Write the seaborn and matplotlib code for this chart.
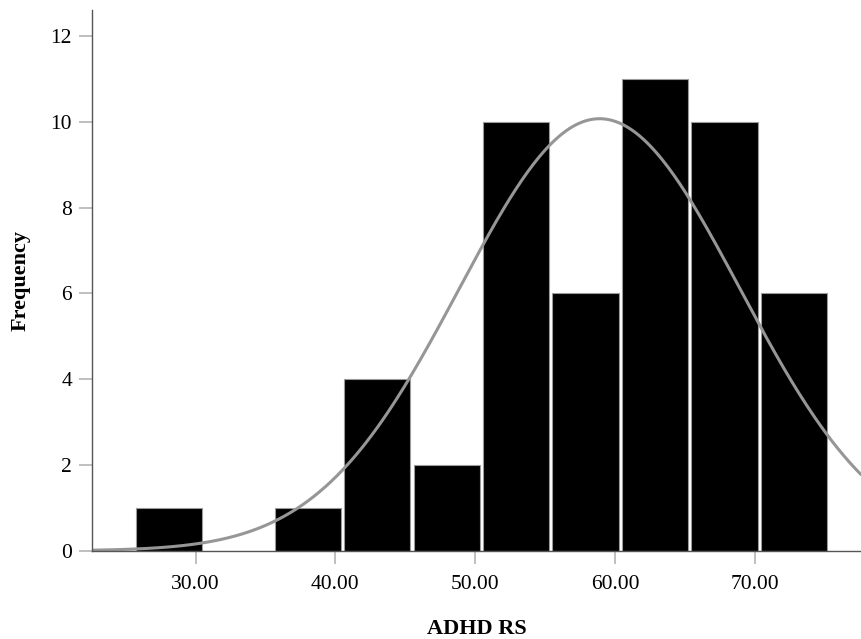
import numpy as np
import pandas as pd
import matplotlib
matplotlib.use("Agg")
import matplotlib.pyplot as plt
import seaborn as sns

# Histogram of ADHD RS scores with fitted normal curve
bin_start = 25.6
bin_width = 4.97
counts = [1, 0, 1, 4, 2, 10, 6, 11, 10, 6]
mean_score = 58.9
sd_score = 10.04
x_ticks = [30, 40, 50, 60, 70]
y_ticks = [0, 2, 4, 6, 8, 10, 12]

sns.set_style("white")
plt.rcParams["font.family"] = ["Liberation Serif", "DejaVu Serif"]
plt.rcParams["text.color"] = "black"
plt.rcParams["xtick.color"] = "black"
plt.rcParams["ytick.color"] = "black"
plt.rcParams["axes.labelcolor"] = "black"

edges = bin_start + bin_width * np.arange(len(counts) + 1)
centers = (edges[:-1] + edges[1:]) / 2
df = pd.DataFrame({"score": centers, "count": counts})

fig = plt.figure(figsize=(8.61, 6.39), dpi=100)
ax = fig.add_axes([0.107, 0.138, 0.893, 0.846])

sns.histplot(data=df, x="score", weights="count", binwidth=bin_width,
             binrange=(float(edges[0]), float(edges[-1])), shrink=0.955,
             color="black", edgecolor="#9a9a9a", linewidth=0.8, alpha=1.0, ax=ax)

n = sum(counts)
xs = np.linspace(22.6, 77.6, 400)
ys = n * bin_width / (sd_score * np.sqrt(2 * np.pi)) * np.exp(-0.5 * ((xs - mean_score) / sd_score) ** 2)
sns.lineplot(x=xs, y=ys, color="#969696", linewidth=2.2, ax=ax)

ax.set_xlim(22.6, 77.6)
ax.set_ylim(0, 12.6)
ax.set_xticks(x_ticks)
ax.set_xticklabels([f"{t:.2f}" for t in x_ticks], fontsize=15.5)
ax.set_yticks(y_ticks)
ax.set_yticklabels([str(t) for t in y_ticks], fontsize=15.5)
ax.tick_params(axis="both", bottom=True, left=True, direction="out", length=9.5,
               width=1.2, color="#b4b4b4", labelcolor="black")
ax.tick_params(axis="x", pad=8)
ax.tick_params(axis="y", pad=5)
ax.set_xlabel("ADHD RS", fontsize=16, fontweight="bold", labelpad=18)
ax.set_ylabel("Frequency", fontsize=16, fontweight="bold", labelpad=14)

for side in ["top", "right"]:
    ax.spines[side].set_visible(False)
for side in ["left", "bottom"]:
    ax.spines[side].set_color("#555555")
    ax.spines[side].set_linewidth(1.0)

fig.savefig("out.png", dpi=100)
